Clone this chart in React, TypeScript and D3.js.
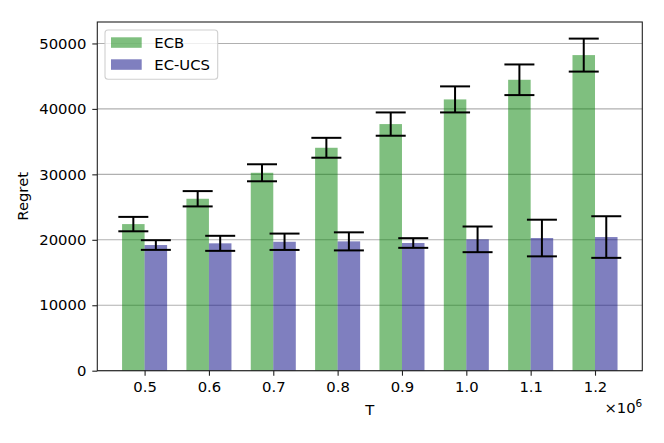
import React, { useEffect, useRef } from 'react';
import * as d3 from 'd3';

const categories = [0.5, 0.6, 0.7, 0.8, 0.9, 1.0, 1.1, 1.2];
const ecbMean = [22400, 26270, 30240, 34060, 37680, 41450, 44450, 48220];
const ecbErr = [1100, 1170, 1300, 1520, 1780, 1990, 2340, 2520];
const ucsMean = [19200, 19460, 19700, 19760, 19510, 20070, 20270, 20420];
const ucsErr = [740, 1150, 1250, 1380, 740, 1960, 2800, 3180];
const yTicks = [0, 10000, 20000, 30000, 40000, 50000];
const seriesNames = ['ECB', 'EC-UCS'];
const seriesColors = ['green', 'navy'];

const W = 664;
const H = 443;
const margin = { top: 22, right: 21.7, bottom: 72.3, left: 97.3 };
const barWidth = 0.035;
const fontSize = '14.8px';

const App: React.FC = () => {
  const ref = useRef<SVGSVGElement>(null);

  useEffect(() => {
    const svg = d3.select(ref.current);
    svg.html('');
    const font = 'DejaVu Sans, sans-serif';

    const x = d3.scaleLinear().domain([0.4265, 1.2735]).range([margin.left, W - margin.right]);
    const ymax = d3.max(ecbMean.map((m, i) => m + ecbErr[i]))! * 1.05;
    const y = d3.scaleLinear().domain([0, ymax]).range([H - margin.bottom, margin.top]);

    // grid
    svg.append('g')
      .selectAll('line')
      .data(yTicks)
      .enter()
      .append('line')
      .attr('x1', x.range()[0])
      .attr('x2', x.range()[1])
      .attr('y1', d => y(d))
      .attr('y2', d => y(d))
      .attr('stroke', '#b0b0b0')
      .attr('stroke-width', 1.1);

    const series = [
      { mean: ecbMean, err: ecbErr, offset: -barWidth / 2, color: seriesColors[0] },
      { mean: ucsMean, err: ucsErr, offset: barWidth / 2, color: seriesColors[1] },
    ];

    series.forEach(s => {
      svg.append('g')
        .selectAll('rect')
        .data(categories)
        .enter()
        .append('rect')
        .attr('x', d => x(d + s.offset - barWidth / 2))
        .attr('width', x(barWidth) - x(0))
        .attr('y', (d, i) => y(s.mean[i]))
        .attr('height', (d, i) => y(0) - y(s.mean[i]))
        .attr('fill', s.color)
        .attr('fill-opacity', 0.5);
    });

    series.forEach(s => {
      const g = svg.append('g').attr('stroke', '#000').attr('stroke-width', 2);
      categories.forEach((c, i) => {
        const cx = x(c + s.offset);
        const lo = y(s.mean[i] - s.err[i]);
        const hi = y(s.mean[i] + s.err[i]);
        g.append('line').attr('x1', cx).attr('x2', cx).attr('y1', lo).attr('y2', hi);
        g.append('line').attr('x1', cx - 15).attr('x2', cx + 15).attr('y1', lo).attr('y2', lo);
        g.append('line').attr('x1', cx - 15).attr('x2', cx + 15).attr('y1', hi).attr('y2', hi);
      });
    });

    // frame
    svg.append('rect')
      .attr('x', x.range()[0])
      .attr('y', y.range()[1])
      .attr('width', x.range()[1] - x.range()[0])
      .attr('height', y.range()[0] - y.range()[1])
      .attr('fill', 'none')
      .attr('stroke', '#222')
      .attr('stroke-width', 1.1);

    // axes
    const xAxis = svg.append('g')
      .attr('transform', `translate(0,${y(0)})`)
      .call(d3.axisBottom(x).tickValues(categories).tickSize(5).tickPadding(6).tickFormat(d3.format('.1f')));
    xAxis.select('.domain').remove();
    xAxis.selectAll('text').style('font-family', font).style('font-size', fontSize).attr('fill', '#000');
    xAxis.selectAll('line').attr('stroke', '#222').attr('stroke-width', 1.1);

    const yAxis = svg.append('g')
      .attr('transform', `translate(${x.range()[0]},0)`)
      .call(d3.axisLeft(y).tickValues(yTicks).tickSize(5).tickPadding(6).tickFormat(d3.format('d')));
    yAxis.select('.domain').remove();
    yAxis.selectAll('text').style('font-family', font).style('font-size', fontSize).attr('fill', '#000');
    yAxis.selectAll('line').attr('stroke', '#222').attr('stroke-width', 1.1);

    // labels
    svg.append('text')
      .attr('x', (x.range()[0] + x.range()[1]) / 2)
      .attr('y', 415)
      .attr('text-anchor', 'middle')
      .style('font-family', font)
      .style('font-size', fontSize)
      .text('T');

    svg.append('text')
      .attr('transform', `translate(28,${(y.range()[0] + y.range()[1]) / 2}) rotate(-90)`)
      .attr('text-anchor', 'middle')
      .style('font-family', font)
      .style('font-size', fontSize)
      .text('Regret');

    const off = svg.append('text')
      .attr('x', x.range()[1])
      .attr('y', 413)
      .attr('text-anchor', 'end')
      .style('font-family', font)
      .style('font-size', fontSize);
    off.append('tspan').text('×10');
    off.append('tspan').attr('dy', -6).style('font-size', '10.5px').text('6');

    // legend
    const lg = svg.append('g');
    lg.append('rect')
      .attr('x', 105)
      .attr('y', 30)
      .attr('width', 112.7)
      .attr('height', 49.3)
      .attr('rx', 3)
      .attr('fill', '#fff')
      .attr('fill-opacity', 0.8)
      .attr('stroke', '#d0d0d0')
      .attr('stroke-width', 1.1);
    seriesNames.forEach((name, i) => {
      lg.append('rect')
        .attr('x', 111)
        .attr('y', 37.3 + i * 22)
        .attr('width', 30.7)
        .attr('height', 10.5)
        .attr('fill', seriesColors[i])
        .attr('fill-opacity', 0.5);
      lg.append('text')
        .attr('x', 154.3)
        .attr('y', 47.8 + i * 22)
        .style('font-family', font)
        .style('font-size', fontSize)
        .text(name);
    });
  }, []);

  return (
    <svg
      ref={ref}
      width={W}
      height={H}
      style={{ position: 'absolute', left: 0, top: 0, background: '#fff' }}
    />
  );
};

export default App;
